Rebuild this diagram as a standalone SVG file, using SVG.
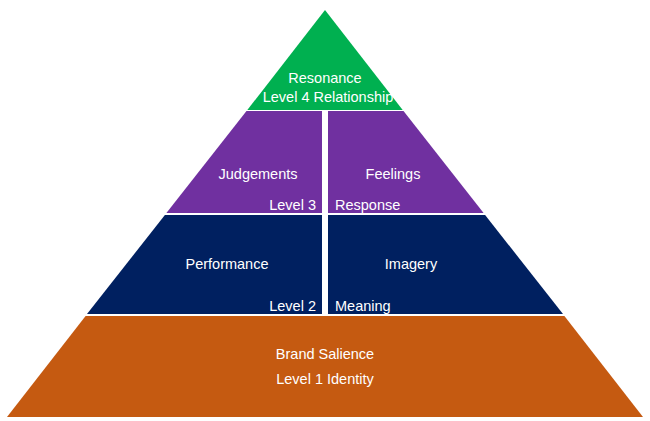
<svg xmlns="http://www.w3.org/2000/svg" width="650" height="421" viewBox="0 0 650 421">
  <style>
    text { font-family: "Liberation Sans", Arial, sans-serif; font-size: 14.5px; fill: #ffffff; }
    .c { text-anchor: middle; }
    .r { text-anchor: end; }
    .green { fill: #00B050; }
    .purple { fill: #7030A0; }
    .navy { fill: #002060; }
    .orange { fill: #C55A11; }
  </style>
  <rect width="650" height="421" fill="#ffffff"/>
  <g id="resonance">
    <polygon class="green" points="325,10 402.7,110 247.3,110"/>
    <text class="c" x="325" y="83">Resonance</text>
    <text class="c" x="328" y="102">Level 4 Relationship</text>
  </g>
  <g id="judgements">
    <polygon class="purple" points="246.5,111 322,111 322,213 166.4,213"/>
    <text class="c" x="258" y="179">Judgements</text>
    <text class="r" x="316" y="210">Level 3</text>
  </g>
  <g id="feelings">
    <polygon class="purple" points="328,111 403.5,111 483.6,213 328,213"/>
    <text class="c" x="393" y="179">Feelings</text>
    <text x="335" y="210">Response</text>
  </g>
  <g id="performance">
    <polygon class="navy" points="164.9,215 322,215 322,314 87,314"/>
    <text class="c" x="227" y="269">Performance</text>
    <text class="r" x="316" y="311">Level 2</text>
  </g>
  <g id="imagery">
    <polygon class="navy" points="328,215 485.1,215 563,314 328,314"/>
    <text class="c" x="411" y="269">Imagery</text>
    <text x="335" y="311">Meaning</text>
  </g>
  <g id="salience">
    <polygon class="orange" points="85.6,316 564.4,316 643,417 7,417"/>
    <text class="c" x="325" y="359">Brand Salience</text>
    <text class="c" x="325" y="384">Level 1 Identity</text>
  </g>
  <g id="connectors"></g>
</svg>
